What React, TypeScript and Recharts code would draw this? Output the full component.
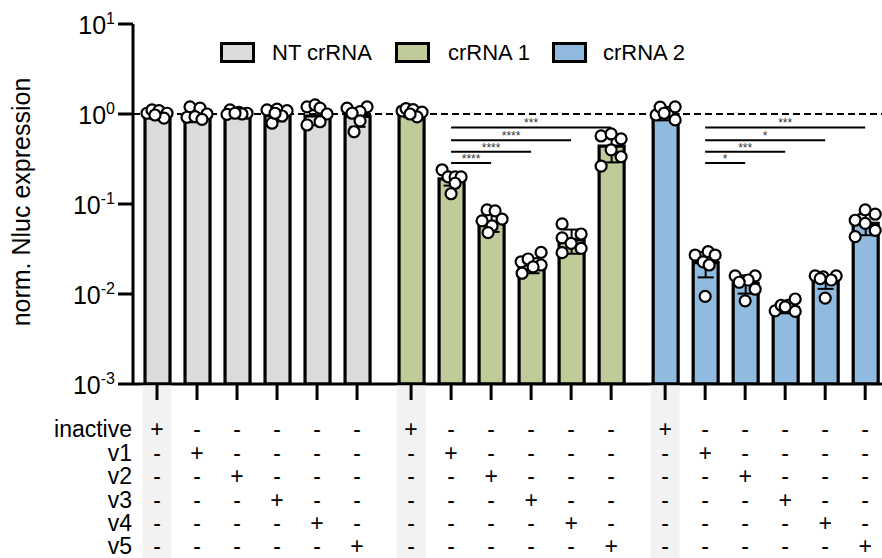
import React from 'react';
import {
  ComposedChart,
  Bar,
  Cell,
  ErrorBar,
  Scatter,
  XAxis,
  YAxis,
  ReferenceLine,
  Legend,
} from 'recharts';

// ---- data -----------------------------------------------------------------
const GROUPS = ['NT crRNA', 'crRNA 1', 'crRNA 2'];
const VARIANTS = ['inactive', 'v1', 'v2', 'v3', 'v4', 'v5'];
const Y_TICKS = [0.001, 0.01, 0.1, 1, 10];

// bar heights (mean) and standard deviations per variant
const NT_MEAN = [0.95, 0.94, 0.97, 0.96, 0.95, 0.94];
const NT_SD = [0.07, 0.13, 0.04, 0.13, 0.2, 0.22];
const CR1_MEAN = [1.0, 0.19, 0.063, 0.021, 0.04, 0.44];
const CR1_SD = [0.08, 0.03, 0.014, 0.004, 0.012, 0.15];
const CR2_MEAN = [0.98, 0.0223, 0.0131, 0.0071, 0.0138, 0.061];
const CR2_SD = [0.13, 0.007, 0.003, 0.001, 0.0024, 0.016];

// individual replicates per variant
const NT_POINTS = [
  [1.02, 1.11, 1.09, 1.02, 0.9, 0.975],
  [1.2, 1.16, 0.92, 1.0, 0.935, 0.873],
  [1.11, 1.04, 1.02, 0.99, 1.0, 1.02],
  [1.11, 1.13, 1.09, 0.95, 0.79, 1.02],
  [1.2, 1.26, 1.16, 1.0, 0.755, 0.82],
  [1.16, 1.2, 1.06, 1.02, 0.84, 0.635],
];
const CR1_POINTS = [
  [1.08, 1.15, 1.12, 1.05, 0.93, 1.0],
  [0.24, 0.2, 0.2, 0.2, 0.17, 0.13],
  [0.086, 0.084, 0.065, 0.068, 0.057, 0.048],
  [0.0228, 0.0245, 0.029, 0.021, 0.017, 0.02],
  [0.06, 0.042, 0.0464, 0.0366, 0.0322, 0.0288],
  [0.57, 0.6, 0.53, 0.4, 0.335, 0.264],
];
const CR2_POINTS = [
  [0.975, 1.19, 1.04, 1.2, 0.86, 1.02],
  [0.0271, 0.0295, 0.0271, 0.0228, 0.021, 0.0094],
  [0.0159, 0.0159, 0.0143, 0.0113, 0.0084, 0.0135],
  [0.0065, 0.0075, 0.0075, 0.0088, 0.0064, 0.0072],
  [0.0159, 0.0155, 0.0159, 0.0143, 0.009, 0.0148],
  [0.066, 0.086, 0.077, 0.061, 0.051, 0.0434],
];

// significance comparisons against v1 (variant index 1)
const CR1_SIG = [
  { to: 5, label: '***' },
  { to: 4, label: '****' },
  { to: 3, label: '****' },
  { to: 2, label: '****' },
];
const CR2_SIG = [
  { to: 5, label: '***' },
  { to: 4, label: '*' },
  { to: 3, label: '***' },
  { to: 2, label: '*' },
];

// ---- layout ---------------------------------------------------------------
const FONT = '"Liberation Sans", Arial, Helvetica, sans-serif';
const COLORS = ['#dcdbda', '#bfcb98', '#90bbdf'];
const BAND = '#f2f2f2';
const W = 882;
const H = 558;
const GROUP_GAP = 0.35;
const SLOT_PX = 40;
const SIG_LEVELS = [0.71, 0.51, 0.38, 0.285];
const LEGEND_X = [220, 395, 552];
const LEGEND_TEXT_DX = [52, 53, 51];
const ROW_BASE = 53.3;
const ROW_STEP = 23.4;

// horizontal jitter of replicate dots, in px from bar centre
const JITTER = [
  [
    [-10, -5, 2, 10, 7, -2],
    [-7, 3, -10, 10, -2, 5],
    [-7, 2, 10, -10, 5, -2],
    [-10, 0, 10, 5, -5, -2],
    [-10, -2, 3, 10, -10, 3],
    [-10, 10, 3, -5, 3, -3],
  ],
  [
    [-9, -5, 2, 11, 6, -1],
    [-9, -3, 4, 10, 4, 0],
    [-4, 4, -9, 11, 1, -3],
    [-10, -3, 10, 10, -9, 2],
    [-9, -9, 10, 0, 10, -9],
    [-10, 0, 10, 0, 10, -10],
  ],
  [
    [-9, -5, 3, 10, 10, -1],
    [-10, 3, 10, -2, 4, 0],
    [-10, 10, 3, 10, 0, -6],
    [-10, -4, 3, 10, 10, 0],
    [-10, -2, 11, 6, 0, -5],
    [-10, 0, 10, 0, 10, -10],
  ],
];

const MEANS = [NT_MEAN, CR1_MEAN, CR2_MEAN];
const SDS = [NT_SD, CR1_SD, CR2_SD];
const POINTS = [NT_POINTS, CR1_POINTS, CR2_POINTS];
const SIGS = [null, CR1_SIG, CR2_SIG];

const posOf = (g: number, i: number) => g * (VARIANTS.length + GROUP_GAP) + i;

const barData = GROUPS.flatMap((name, g) =>
  VARIANTS.map((v, i) => ({
    pos: posOf(g, i),
    mean: MEANS[g][i],
    sd: SDS[g][i],
    group: g,
    variant: i,
  }))
);

const pointData = barData.flatMap((b) =>
  POINTS[b.group][b.variant].map((val, k) => ({
    pos: b.pos + JITTER[b.group][b.variant][k] / SLOT_PX,
    val,
  }))
);

const xTicks = barData.map((b) => b.pos);
const X_DOMAIN = [-0.6, posOf(GROUPS.length - 1, VARIANTS.length - 1) + 0.42];

// ---- pieces ---------------------------------------------------------------
const PowerTick = (props: any) => {
  const { x, y, payload } = props;
  const exp = Math.round(Math.log10(payload.value));
  return (
    <text x={x} y={y + 10} textAnchor="end" fontFamily={FONT} fontSize={25} fill="#000">
      <tspan>10</tspan>
      <tspan dy={-10} fontSize={16}>
        {exp}
      </tspan>
    </text>
  );
};

const TableTick = (props: any) => {
  const { x, y, payload } = props;
  const idx = xTicks.indexOf(payload.value);
  const variant = idx % VARIANTS.length;
  return (
    <g>
      {variant === 0 && <rect x={x - 14.5} y={y + 1.5} width={29} height={H} fill={BAND} />}
      <line x1={x} x2={x} y1={y} y2={y + 16} stroke="#000" strokeWidth={3} />
      {VARIANTS.map((name, r) => (
        <text
          key={name}
          x={x}
          y={y + ROW_BASE + r * ROW_STEP}
          textAnchor="middle"
          fontFamily={FONT}
          fontSize={23}
          fill="#000"
        >
          {r === variant ? '+' : '-'}
        </text>
      ))}
      {idx === 0 &&
        VARIANTS.map((name, r) => (
          <text
            key={'l' + name}
            x={x - 25}
            y={y + ROW_BASE + r * ROW_STEP}
            textAnchor="end"
            fontFamily={FONT}
            fontSize={23}
            fill="#000"
          >
            {name}
          </text>
        ))}
    </g>
  );
};

const AxisTitle = (props: any) => {
  const vb = props.viewBox || { x: 0, y: 24, width: 133, height: 360 };
  const cx = 30;
  const cy = vb.y + vb.height / 2 - 2;
  return (
    <text
      x={cx}
      y={cy}
      transform={`rotate(-90, ${cx}, ${cy})`}
      textAnchor="middle"
      fontFamily={FONT}
      fontSize={25}
      fill="#000"
    >
      norm. Nluc expression
    </text>
  );
};

const LegendBox = () => (
  <div style={{ position: 'relative', width: W, height: 30, fontFamily: FONT }}>
    {GROUPS.map((name, g) => (
      <React.Fragment key={name}>
        <div
          style={{
            position: 'absolute',
            left: LEGEND_X[g],
            top: 8,
            width: 29,
            height: 15,
            border: '3px solid #000',
            background: COLORS[g],
          }}
        />
        <div
          style={{
            position: 'absolute',
            left: LEGEND_X[g] + LEGEND_TEXT_DX[g],
            top: 8,
            fontSize: 22,
            lineHeight: '21px',
            whiteSpace: 'nowrap',
            color: '#000',
          }}
        >
          {name}
        </div>
      </React.Fragment>
    ))}
  </div>
);

const Dot = (props: any) => (
  <circle cx={props.cx} cy={props.cy} r={5.5} fill="#fff" stroke="#000" strokeWidth={2.2} />
);

export default function App() {
  return (
    <div style={{ position: 'absolute', left: 0, top: 0, width: W, height: H, background: '#fff' }}>
      <ComposedChart
        width={W}
        height={H}
        data={barData}
        margin={{ top: 24, right: 0, bottom: 0, left: 0 }}
      >
        <XAxis
          type="number"
          dataKey="pos"
          domain={X_DOMAIN}
          allowDataOverflow
          ticks={xTicks}
          interval={0}
          height={174}
          tickSize={0}
          tickMargin={0}
          tickLine={false}
          axisLine={{ stroke: '#000', strokeWidth: 3 }}
          tick={<TableTick />}
        />
        <XAxis
          xAxisId="dots"
          type="number"
          dataKey="pos"
          domain={X_DOMAIN}
          allowDataOverflow
          hide
          height={174}
        />
        <YAxis
          scale="log"
          domain={[0.001, 10]}
          allowDataOverflow
          ticks={Y_TICKS}
          interval={0}
          width={133}
          tickSize={15}
          tickMargin={3}
          axisLine={{ stroke: '#000', strokeWidth: 3 }}
          tickLine={{ stroke: '#000', strokeWidth: 3 }}
          tick={<PowerTick />}
          label={<AxisTitle />}
        />
        <Legend
          layout="vertical"
          align="center"
          verticalAlign="middle"
          wrapperStyle={{ top: 34, left: 0, width: W, height: 30 }}
          content={() => <LegendBox />}
        />
        <ReferenceLine y={1} stroke="#000" strokeWidth={2} strokeDasharray="7 4" />
        <Bar dataKey="mean" barSize={25} stroke="#000" strokeWidth={3.2} isAnimationActive={false}>
          {barData.map((b) => (
            <Cell key={b.pos} fill={COLORS[b.group]} />
          ))}
          <ErrorBar dataKey="sd" width={8} stroke="#000" strokeWidth={2} direction="y" isAnimationActive={false} />
        </Bar>
        {SIGS.flatMap((list, g) =>
          list
            ? list.map((s, k) => (
                <ReferenceLine
                  key={`sig-${g}-${k}`}
                  segment={[
                    { x: posOf(g, 1), y: SIG_LEVELS[k] },
                    { x: posOf(g, s.to), y: SIG_LEVELS[k] },
                  ]}
                  stroke="#000"
                  strokeWidth={2}
                  label={{
                    value: s.label,
                    position: 'top',
                    offset: 0,
                    fontSize: 12,
                    fill: '#333',
                    fontFamily: FONT,
                  }}
                />
              ))
            : []
        )}
        <Scatter
          xAxisId="dots"
          data={pointData}
          dataKey="val"
          shape={<Dot />}
          isAnimationActive={false}
        />
      </ComposedChart>
    </div>
  );
}
